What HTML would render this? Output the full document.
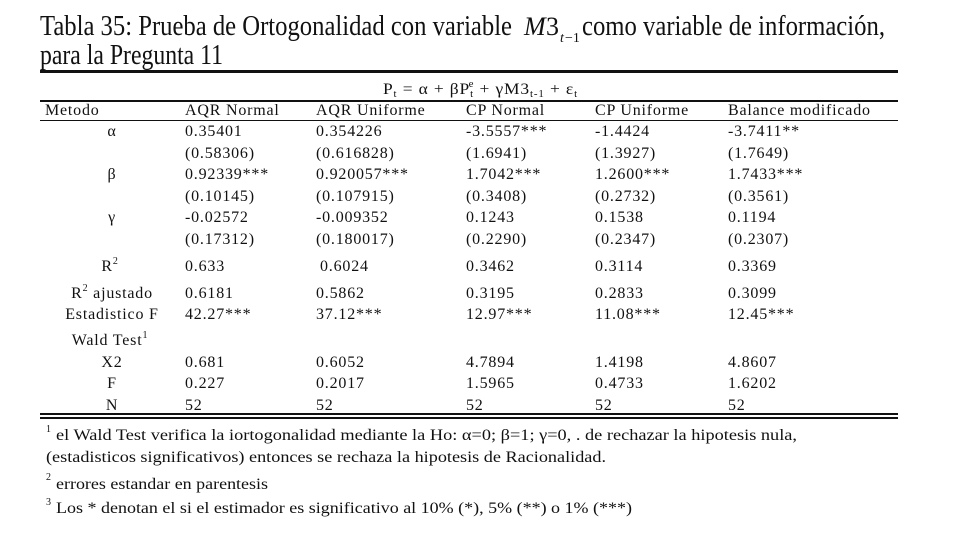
<!DOCTYPE html>
<html><head><meta charset="utf-8"><style>
html,body{margin:0;padding:0;background:#fff;}
svg{display:block;font-family:"Liberation Serif",serif;fill:#111;}
</style></head><body>
<svg width="964" height="547" viewBox="0 0 964 547" xmlns="http://www.w3.org/2000/svg">
<rect width="964" height="547" fill="#fff"/>
<g font-size="28">
<text x="40" y="35" textLength="472" lengthAdjust="spacingAndGlyphs">Tabla 35: Prueba de Ortogonalidad con variable</text>
<text x="524" y="35" font-style="italic" font-size="26">M</text><text x="546" y="35" font-size="26">3</text>
<text x="560" y="42" font-size="14" font-style="italic">t</text><text x="565" y="42" font-size="14">−1</text>
<text x="582" y="35" textLength="303" lengthAdjust="spacingAndGlyphs">como variable de información,</text>
<text x="40" y="64" textLength="183" lengthAdjust="spacingAndGlyphs">para la Pregunta 11</text>
</g>
<rect x="40" y="70" width="858" height="3" fill="#111"/>
<rect x="40" y="100" width="858" height="2" fill="#111"/>
<rect x="40" y="120" width="858" height="1" fill="#111"/>
<rect x="40" y="413" width="858" height="2" fill="#111"/>
<rect x="40" y="417" width="858" height="2" fill="#111"/>
<g font-size="16" letter-spacing="0.8">
<text x="383" y="94" textLength="195" lengthAdjust="spacingAndGlyphs">P<tspan font-size="10" dy="3">t</tspan><tspan dy="-3"> = α + βP</tspan><tspan font-size="10" dy="3">t</tspan><tspan font-size="10" dx="-5" dy="-10">e</tspan><tspan dy="7"> + γM3</tspan><tspan font-size="10" dy="3">t-1</tspan><tspan dy="-3"> + ε</tspan><tspan font-size="10" dy="3">t</tspan></text>
<text x="45" y="115">Metodo</text>
<text x="185" y="115">AQR Normal</text><text x="316" y="115">AQR Uniforme</text><text x="466" y="115">CP Normal</text><text x="595" y="115">CP Uniforme</text><text x="728" y="115">Balance modificado</text>
<g text-anchor="middle">
<text x="112" y="136">α</text><text x="112" y="179">β</text><text x="112" y="222">γ</text>
<text x="110" y="271">R<tspan font-size="10" dy="-7">2</tspan></text>
<text x="112" y="298">R<tspan font-size="10" dy="-7">2</tspan><tspan dy="7"> ajustado</tspan></text>
<text x="112" y="319">Estadistico F</text>
<text x="110" y="345">Wald Test<tspan font-size="10" dy="-7">1</tspan></text>
<text x="112" y="367">X2</text><text x="112" y="388">F</text><text x="112" y="410">N</text>
</g>
<g>
<text x="185" y="136">0.35401</text><text x="316" y="136">0.354226</text><text x="466" y="136">-3.5557***</text><text x="595" y="136">-1.4424</text><text x="728" y="136">-3.7411**</text>
<text x="185" y="158">(0.58306)</text><text x="316" y="158">(0.616828)</text><text x="466" y="158">(1.6941)</text><text x="595" y="158">(1.3927)</text><text x="728" y="158">(1.7649)</text>
<text x="185" y="179">0.92339***</text><text x="316" y="179">0.920057***</text><text x="466" y="179">1.7042***</text><text x="595" y="179">1.2600***</text><text x="728" y="179">1.7433***</text>
<text x="185" y="201">(0.10145)</text><text x="316" y="201">(0.107915)</text><text x="466" y="201">(0.3408)</text><text x="595" y="201">(0.2732)</text><text x="728" y="201">(0.3561)</text>
<text x="185" y="222">-0.02572</text><text x="316" y="222">-0.009352</text><text x="466" y="222">0.1243</text><text x="595" y="222">0.1538</text><text x="728" y="222">0.1194</text>
<text x="185" y="244">(0.17312)</text><text x="316" y="244">(0.180017)</text><text x="466" y="244">(0.2290)</text><text x="595" y="244">(0.2347)</text><text x="728" y="244">(0.2307)</text>
<text x="185" y="271">0.633</text><text x="320" y="271">0.6024</text><text x="466" y="271">0.3462</text><text x="595" y="271">0.3114</text><text x="728" y="271">0.3369</text>
<text x="185" y="298">0.6181</text><text x="316" y="298">0.5862</text><text x="466" y="298">0.3195</text><text x="595" y="298">0.2833</text><text x="728" y="298">0.3099</text>
<text x="185" y="319">42.27***</text><text x="316" y="319">37.12***</text><text x="466" y="319">12.97***</text><text x="595" y="319">11.08***</text><text x="728" y="319">12.45***</text>
<text x="185" y="367">0.681</text><text x="316" y="367">0.6052</text><text x="466" y="367">4.7894</text><text x="595" y="367">1.4198</text><text x="728" y="367">4.8607</text>
<text x="185" y="388">0.227</text><text x="316" y="388">0.2017</text><text x="466" y="388">1.5965</text><text x="595" y="388">0.4733</text><text x="728" y="388">1.6202</text>
<text x="185" y="410">52</text><text x="316" y="410">52</text><text x="466" y="410">52</text><text x="595" y="410">52</text><text x="728" y="410">52</text>
</g>
</g>
<g font-size="16">
<text x="46" y="432" font-size="10">1</text>
<text x="56" y="440" textLength="741" lengthAdjust="spacingAndGlyphs">el Wald Test verifica la iortogonalidad mediante la Ho: α=0;  β=1; γ=0, . de rechazar la hipotesis nula,</text>
<text x="46" y="462" textLength="560" lengthAdjust="spacingAndGlyphs">(estadisticos significativos)  entonces se rechaza la hipotesis de Racionalidad.</text>
<text x="46" y="480" font-size="10">2</text>
<text x="56" y="489" textLength="212" lengthAdjust="spacingAndGlyphs">errores estandar en parentesis</text>
<text x="46" y="505" font-size="10">3</text>
<text x="56" y="513" textLength="576" lengthAdjust="spacingAndGlyphs">Los * denotan el si el estimador es significativo al 10% (*), 5% (**) o 1% (***)</text>
</g>
</svg>
</body></html>
